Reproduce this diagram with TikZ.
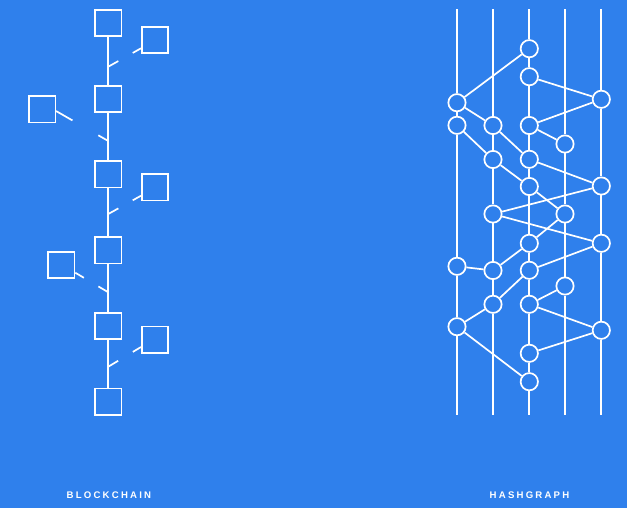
\documentclass[tikz,border=0pt]{standalone}
\usepackage{fontspec}
\setmainfont{Liberation Sans}
\newfontfamily\captionfont[LetterSpace=23]{Liberation Sans}
\usepackage{tikz}
\usetikzlibrary{calc}
\definecolor{bgblue}{HTML}{2F80EC}

\begin{document}
\begin{tikzpicture}[x=1pt, y=-1pt, line width=1.7pt, white,
    block/.style={draw=white, fill=bgblue, minimum size=26.3pt, inner sep=0pt},
    event/.style={circle, draw=white, fill=bgblue, minimum size=17.3pt, inner sep=0pt},
    caption/.style={text=white, inner sep=0pt, font=\captionfont\bfseries\fontsize{9.6}{11}\selectfont}]
    \fill[bgblue] (0,0) rectangle (627,508);
    \useasboundingbox (0,0) rectangle (627,508);

    % blockchain
    \node[block]	(B0)	at	(108.3,23.2)	{};
    \node[block]	(B1)	at	(108.3,99)	{};
    \node[block]	(B2)	at	(108.3,174.5)	{};
    \node[block]	(B3)	at	(108.3,250.3)	{};
    \node[block]	(B4)	at	(108.3,325.8)	{};
    \node[block]	(B5)	at	(108.3,401.5)	{};
    \node[block]	(R0)	at	(155,40)	{};
    \node[block]	(L0)	at	(42.2,109.3)	{};
    \node[block]	(R1)	at	(155,187.3)	{};
    \node[block]	(L1)	at	(61.3,265)	{};
    \node[block]	(R2)	at	(155,339.5)	{};
    \draw (B0) -- (B1) -- (B2) -- (B3) -- (B4) -- (B5);

    \coordinate (r0a) at (108.3,66.7);	\coordinate (r0b) at (141,48.3);
    \coordinate (l0a) at (108.3,141);	\coordinate (l0b) at (56,111);
    \coordinate (r1a) at (108.3,214);	\coordinate (r1b) at (141,195.7);
    \coordinate (l1a) at (108.3,292.3);	\coordinate (l1b) at (75.3,272.7);
    \coordinate (r2a) at (108.3,366.7);	\coordinate (r2b) at (141,347);
    \draw (r0a) -- ($(r0a)!11.5pt!(r0b)$);
    \draw (r0b) -- ($(r0b)!9.5pt!(r0a)$);
    \draw (l0a) -- ($(l0a)!11.5pt!(l0b)$);
    \draw (l0b) -- ($(l0b)!19pt!(l0a)$);
    \draw (r1a) -- ($(r1a)!11.5pt!(r1b)$);
    \draw (r1b) -- ($(r1b)!9.5pt!(r1a)$);
    \draw (l1a) -- ($(l1a)!11.5pt!(l1b)$);
    \draw (l1b) -- ($(l1b)!10pt!(l1a)$);
    \draw (r2a) -- ($(r2a)!11.5pt!(r2b)$);
    \draw (r2b) -- ($(r2b)!9.5pt!(r2a)$);

    % hashgraph
    \node[event]	(a1)	at	(457,102.7)	{};
    \node[event]	(a2)	at	(457,125.3)	{};
    \node[event]	(a3)	at	(457,266.3)	{};
    \node[event]	(a4)	at	(457,326.7)	{};
    \node[event]	(b1)	at	(493,125.5)	{};
    \node[event]	(b2)	at	(493,159.5)	{};
    \node[event]	(b3)	at	(493,214)	{};
    \node[event]	(b4)	at	(493,270.5)	{};
    \node[event]	(b5)	at	(493,304.3)	{};
    \node[event]	(c1)	at	(529.3,48.7)	{};
    \node[event]	(c2)	at	(529.3,76.7)	{};
    \node[event]	(c3)	at	(529.3,125.5)	{};
    \node[event]	(c4)	at	(529.3,159.3)	{};
    \node[event]	(c5)	at	(529.3,186.5)	{};
    \node[event]	(c6)	at	(529.3,243.3)	{};
    \node[event]	(c7)	at	(529.3,270.3)	{};
    \node[event]	(c8)	at	(529.3,304.3)	{};
    \node[event]	(c9)	at	(529.3,353.3)	{};
    \node[event]	(c10)	at	(529.3,381.7)	{};
    \node[event]	(d1)	at	(565,144)	{};
    \node[event]	(d2)	at	(565,214)	{};
    \node[event]	(d3)	at	(565,286)	{};
    \node[event]	(e1)	at	(601.3,99.3)	{};
    \node[event]	(e2)	at	(601.3,186)	{};
    \node[event]	(e3)	at	(601.3,243.3)	{};
    \node[event]	(e4)	at	(601.3,330.3)	{};

    \coordinate (ta) at (457,9.3);	\coordinate (ua) at (457,415);
    \coordinate (tb) at (493,9.3);	\coordinate (ub) at (493,415);
    \coordinate (tc) at (529.3,9.3);	\coordinate (uc) at (529.3,415);
    \coordinate (td) at (565,9.3);	\coordinate (ud) at (565,415);
    \coordinate (te) at (601.3,9.3);	\coordinate (ue) at (601.3,415);
    \draw (ta) -- (a1) -- (a2) -- (a3) -- (a4) -- (ua);
    \draw (tb) -- (b1) -- (b2) -- (b3) -- (b4) -- (b5) -- (ub);
    \draw (tc) -- (c1) -- (c2) -- (c3) -- (c4) -- (c5) -- (c6) -- (c7) -- (c8) -- (c9) -- (c10) -- (uc);
    \draw (td) -- (d1) -- (d2) -- (d3) -- (ud);
    \draw (te) -- (e1) -- (e2) -- (e3) -- (e4) -- (ue);

    \draw (a1) -- (c1);
    \draw (c2) -- (e1);
    \draw (e1) -- (c3);
    \draw (a1) -- (b1);
    \draw (a2) -- (b2);
    \draw (b1) -- (c4);
    \draw (c3) -- (d1);
    \draw (c4) -- (e2);
    \draw (b2) -- (c5);
    \draw (e2) -- (b3);
    \draw (c5) -- (d2);
    \draw (b3) -- (e3);
    \draw (d2) -- (c6);
    \draw (c6) -- (b4);
    \draw (a3) -- (b4);
    \draw (c7) -- (e3);
    \draw (c7) -- (b5);
    \draw (c8) -- (d3);
    \draw (b5) -- (a4);
    \draw (c8) -- (e4);
    \draw (e4) -- (c9);
    \draw (a4) -- (c10);

    % captions
    \node[caption]	(chain)	at	(108.9,495.3)	{BLOCKCHAIN};
    \node[caption]	(graph)	at	(529.5,495.3)	{HASHGRAPH};
\end{tikzpicture}
\end{document}
